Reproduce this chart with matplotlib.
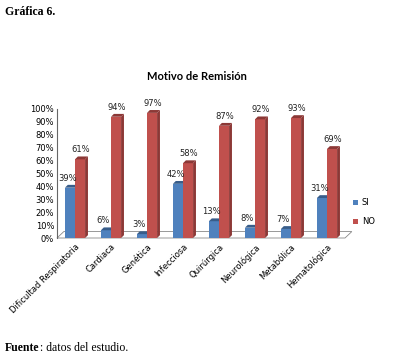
import matplotlib.pyplot as plt
from matplotlib.patches import Polygon

categorias = ["Dificultad Respiratoria", "Cardiaca", "Genética", "Infecciosa",
              "Quirúrgica", "Neurológica", "Metabólica", "Hematológica"]
si = [39, 6, 3, 42, 13, 8, 7, 31]
no = [61, 94, 97, 58, 87, 92, 93, 69]

azul = "#4F81BD"
azul_osc = "#385D8A"
rojo = "#C0504D"
rojo_osc = "#8C3836"

fig = plt.figure(figsize=(4.05, 3.57), dpi=100)
ax = fig.add_axes([57/405, (357-238)/357, 288/405, 129/357])

w = 0.28
dx = 0.08
dy = 2.2

def barra3d(x, v, c_frente, c_lado):
    ax.bar(x, v, width=w, align="edge", color=c_frente, linewidth=0, zorder=3)
    lado = Polygon([(x+w, 0), (x+w+dx, dy), (x+w+dx, v+dy), (x+w, v)],
                   closed=True, facecolor=c_lado, edgecolor="none", zorder=3)
    tapa = Polygon([(x, v), (x+w, v), (x+w+dx, v+dy), (x+dx, v+dy)],
                   closed=True, facecolor=c_lado, edgecolor="none", zorder=3)
    ax.add_patch(lado)
    ax.add_patch(tapa)

for i in range(len(categorias)):
    xb = i - w
    barra3d(xb, si[i], azul, azul_osc)
    barra3d(i, no[i], rojo, rojo_osc)
    ax.text(xb + 0.07, si[i] + 4, f"{si[i]}%", ha="center", va="bottom",
            fontsize=6, color="#222222")
    ax.text(i + 0.17, no[i] + 4, f"{no[i]}%", ha="center", va="bottom",
            fontsize=6, color="#222222")

# piso
piso = Polygon([(-0.5, 0), (7.5, 0), (7.5 + 0.19, 5), (-0.5 + 0.19, 5)],
               closed=True, facecolor="none", edgecolor="#888888", linewidth=0.6, zorder=1)
ax.add_patch(piso)

ax.set_xlim(-0.5, 7.5)
ax.set_ylim(0, 100)
ax.set_yticks(range(0, 101, 10))
ax.set_yticklabels([f"{v}%" for v in range(0, 101, 10)], fontsize=6)
ax.set_xticks(range(len(categorias)))
ax.set_xticklabels(categorias, rotation=45, ha="right", rotation_mode="anchor", fontsize=6)
ax.tick_params(length=0, pad=2)
ax.tick_params(axis="x", pad=3)
for s in ["top", "right", "bottom"]:
    ax.spines[s].set_visible(False)
ax.spines["left"].set_color("#666666")
ax.spines["left"].set_linewidth(0.8)
for p in ax.patches:
    p.set_clip_on(False)

ax.bar([0], [0], color=azul, label="SI")
ax.bar([0], [0], color=rojo, label="NO")
ax.legend(loc="center left", bbox_to_anchor=(1.0, 0.2), frameon=False, fontsize=6,
          handlelength=0.6, handleheight=0.6, labelspacing=1.2, handletextpad=0.5)

fig.text(197/405, 1 - 77/357, "Motivo de Remisión", ha="center", va="center",
         fontsize=8, fontweight="bold", family="Lato")
fig.text(5/405, 1 - 12/357, "Gráfica 6.", ha="left", va="center",
         fontsize=8.5, fontweight="bold", family="Liberation Serif")
t = fig.text(5/405, 1 - 348/357, "Fuente", ha="left", va="center",
             fontsize=8.5, fontweight="bold", family="Liberation Serif")
r = fig.canvas.get_renderer()
bb = t.get_window_extent(renderer=r)
fig.text(bb.x1 / fig.bbox.width, 1 - 348/357, ": datos del estudio.", ha="left", va="center",
         fontsize=8.5, family="Liberation Serif")

fig.savefig("out.png", dpi=100)
